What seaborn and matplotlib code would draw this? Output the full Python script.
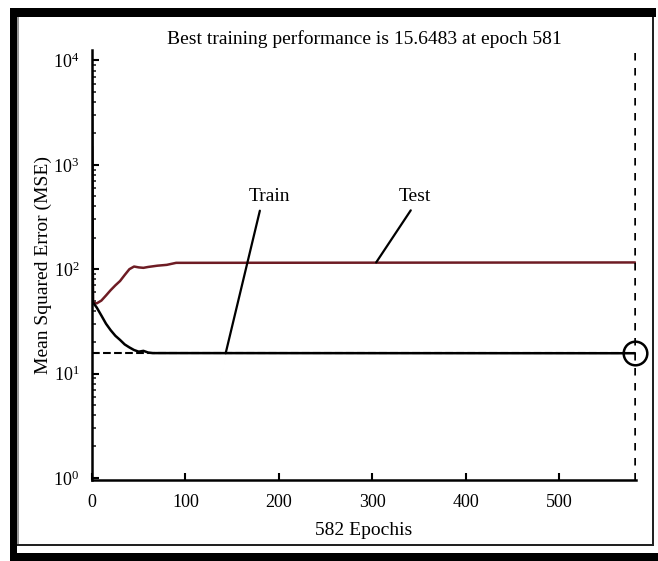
import numpy as np
import pandas as pd
import seaborn as sns
import matplotlib.pyplot as plt
from matplotlib.patches import Rectangle
from matplotlib.ticker import LogLocator, LogFormatterMathtext, NullFormatter

# 데이터
train_epochs = [0, 1, 5, 10, 15, 20, 25, 30, 35, 40, 45, 50, 55, 60, 65, 581]
train_mse = [8000, 48, 43, 36, 30, 26, 23, 21, 19, 17.8, 16.8, 16.2, 16.5, 15.9, 15.7, 15.65]
test_epochs = [0, 1, 5, 10, 15, 20, 25, 30, 35, 40, 45, 50, 55, 60, 70, 80, 90, 581]
test_mse = [1500, 48, 47, 50, 56, 63, 70, 77, 88, 100, 106, 104, 103, 105, 108, 110, 115, 116]
best_epoch = 581
best_perf = 15.6483
n_epochs = 582

train_df = pd.DataFrame({'epoch': train_epochs, 'mse': train_mse})
test_df = pd.DataFrame({'epoch': test_epochs, 'mse': test_mse})

sns.set_style('ticks')
plt.rcParams['font.family'] = ['Liberation Serif', 'DejaVu Serif']
plt.rcParams['mathtext.fontset'] = 'custom'
plt.rcParams['mathtext.rm'] = 'Liberation Serif'
plt.rcParams['mathtext.default'] = 'regular'
plt.rcParams['text.color'] = 'black'
plt.rcParams['axes.labelcolor'] = 'black'

W, H = 658, 561
fig = plt.figure(figsize=(W / 100, H / 100), dpi=100)
ax = fig.add_axes([92 / W, 1 - 480 / H, 544 / W, 430 / H])

# 프레임 (원본 이미지 테두리)
def px_rect(x0, y0, x1, y1, color='black'):
    fig.patches.append(Rectangle((x0 / W, 1 - y1 / H), (x1 - x0) / W, (y1 - y0) / H,
                                 transform=fig.transFigure, color=color, lw=0, zorder=0))

px_rect(10, 8, 17, 561)
px_rect(10, 8, 656, 17)
px_rect(10, 553, 658, 561)
px_rect(652, 17, 654, 546, '#222222')
px_rect(17, 544, 654, 546, '#222222')
px_rect(17, 17, 18.5, 544, '#999999')

# 곡선
sns.lineplot(x='epoch', y='mse', data=test_df, ax=ax, color='#6e1c24', lw=1.8)
sns.lineplot(x='epoch', y='mse', data=train_df, ax=ax, color='black', lw=1.8)

ax.set_yscale('log')
ax.set_xlim(0, n_epochs)
ax.set_ylim(10 ** -0.02, 10 ** 4.1)

# 최적 지점 표시
ax.plot([0, best_epoch], [best_perf, best_perf], color='black', ls='--', lw=1.5, zorder=1)
ax.axvline(best_epoch, color='black', ls=(0, (3, 3)), lw=1.8)
ax.plot([best_epoch], [best_perf], marker='o', ms=17, mfc='none', mec='black', mew=1.8,
        ls='none', clip_on=False, zorder=5)

# 주석
arrow = dict(arrowstyle='-', color='black', lw=1.6, shrinkA=2, shrinkB=0)
ax.annotate('Train', xy=(143, best_perf), xytext=(190, 500), ha='center', va='center',
            fontsize=14, arrowprops=dict(arrow, relpos=(0.3, 0)))
ax.annotate('Test', xy=(304, 116), xytext=(345, 500), ha='center', va='center',
            fontsize=14, arrowprops=dict(arrow, relpos=(0.5, 0)))

ax.set_title('Best training performance is 15.6483 at epoch 581', fontsize=14, pad=4)
ax.set_xlabel('582 Epochis', fontsize=14, labelpad=8)
ax.set_ylabel('Mean Squared Error (MSE)', fontsize=14, labelpad=1)

ax.set_xticks([0, 100, 200, 300, 400, 500])
ax.yaxis.set_major_locator(LogLocator(base=10, numticks=10))
ax.yaxis.set_minor_locator(LogLocator(base=10, subs=np.arange(2, 10), numticks=20))
ax.yaxis.set_major_formatter(LogFormatterMathtext())
ax.yaxis.set_minor_formatter(NullFormatter())
ax.tick_params(axis='both', which='major', direction='in', length=5, width=1.5, labelsize=13, colors='black')
ax.tick_params(axis='y', which='minor', direction='in', length=3, width=1.2)
ax.tick_params(axis='x', pad=10)
ax.tick_params(axis='y', pad=9)

sns.despine(ax=ax)
for s in ['left', 'bottom']:
    ax.spines[s].set_linewidth(1.8)
    ax.spines[s].set_color('black')

fig.savefig('out.png', dpi=100)
